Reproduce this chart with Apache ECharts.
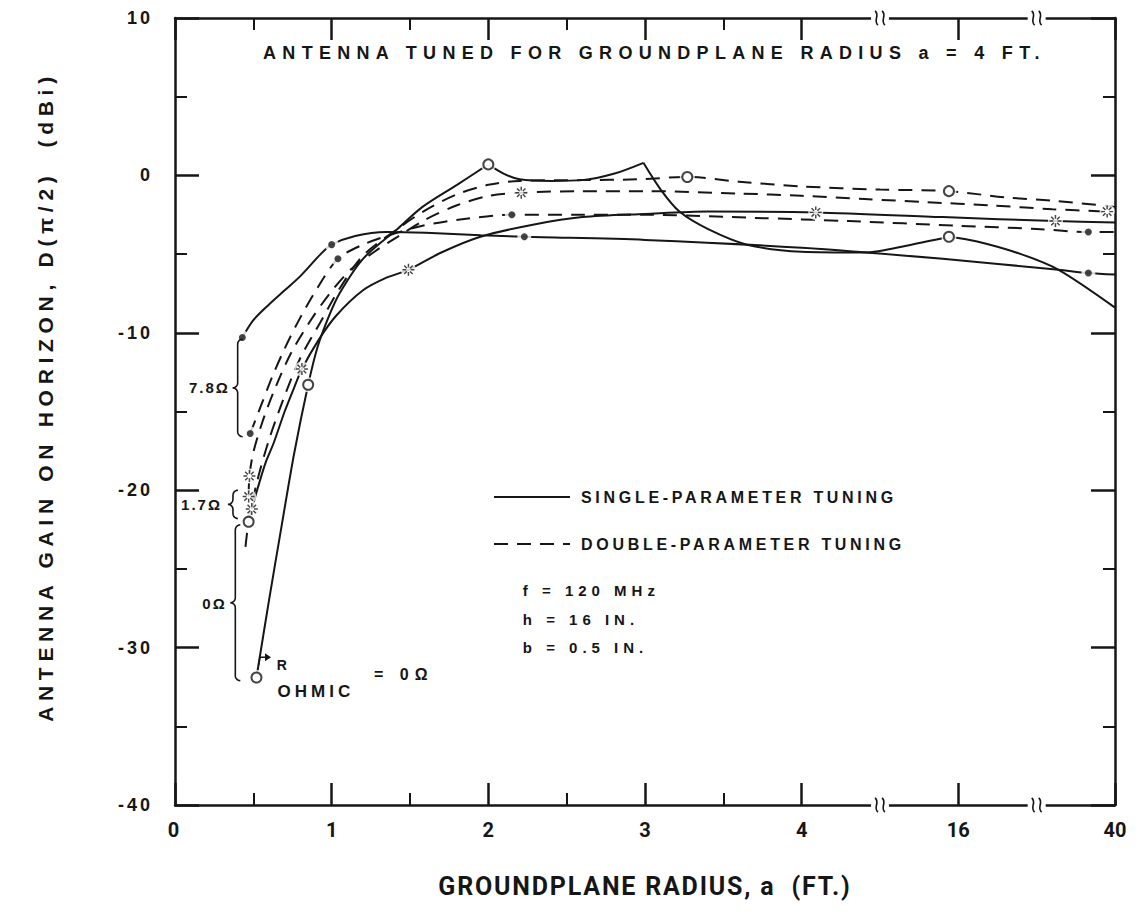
<!DOCTYPE html>
<html>
<head>
<meta charset="utf-8">
<script src="https://cdn.jsdelivr.net/npm/echarts@6/dist/echarts.min.js"></script>
<style>
html,body{margin:0;padding:0;background:#fff;}
#c{width:1138px;height:915px;}
</style>
</head>
<body>
<div id="c"></div>
<script>
// ---------------- DATA ----------------
// x is the position on the broken axis: 0,1,2,3,4 ft, then 16 ft (5) and 40 ft (6)
const xTickLabels = ['0', '1', '2', '3', '4', '16', '40'];
const yTickLabels = ['-40', '-30', '-20', '-10', '0', '10'];

// single-parameter tuning (solid), R_ohmic = 0 ohm
const single0a = [[0.52,-31.9],[0.6,-27.0],[0.68,-22.3],[0.76,-17.7],[0.85,-13.3],[0.91,-10.9],[0.98,-9.0],[1.05,-7.5],[1.2,-5.3],[1.42,-3.4],[1.58,-2.0],[1.8,-0.6],[2.0,0.7]];
const single0b = [[2.0,0.7],[2.1,0.1],[2.2,-0.25],[2.4,-0.35],[2.6,-0.3],[2.8,0.1],[2.99,0.8]];
const single0c = [[2.99,0.8],[3.1,-0.9],[3.22,-2.3],[3.4,-3.4],[3.65,-4.4],[4.0,-4.85],[4.4,-4.9],[4.7,-4.4],[4.94,-3.9]];
const single0d = [[4.94,-3.9],[5.12,-4.2],[5.4,-5.0],[5.64,-6.0],[6.0,-8.4]];
// single-parameter tuning, 1.7 ohm
const single17 = [[0.49,-21.2],[0.53,-19.8],[0.58,-18.2],[0.63,-17.0],[0.7,-15.0],[0.76,-13.5],[0.81,-12.3],[0.92,-10.4],[1.03,-8.9],[1.2,-7.3],[1.35,-6.5],[1.49,-6.0],[1.7,-4.9],[1.95,-3.9],[2.3,-3.1],[2.6,-2.65],[3.0,-2.45],[3.4,-2.3],[4.09,-2.35],[4.9,-2.65],[5.62,-2.9],[6.0,-3.0]];
// single-parameter tuning, 7.8 ohm
const single78 = [[0.43,-10.3],[0.5,-9.2],[0.6,-8.2],[0.7,-7.3],[0.8,-6.4],[0.93,-5.0],[1.0,-4.4],[1.15,-3.85],[1.35,-3.6],[1.6,-3.65],[1.95,-3.8],[2.23,-3.9],[3.0,-4.1],[4.0,-4.6],[4.9,-5.3],[5.64,-6.0],[5.83,-6.2],[6.0,-6.3]];

// double-parameter tuning (dashed), 0 ohm
const double0 = [[0.45,-23.6],[0.47,-22.0],[0.52,-19.6],[0.6,-16.8],[0.7,-14.0],[0.8,-11.6],[0.93,-9.3],[1.05,-7.2],[1.2,-5.1],[1.42,-3.4],[1.6,-2.2],[1.8,-1.2],[2.0,-0.6],[2.2,-0.35],[2.6,-0.3],[2.95,-0.25],[3.27,-0.1],[3.6,-0.4],[4.0,-0.7],[4.5,-0.9],[4.94,-1.0],[5.3,-1.4],[5.6,-1.6],[6.0,-2.0]];
// double-parameter tuning, 1.7 ohm
const double17 = [[0.47,-20.4],[0.475,-19.1],[0.5,-17.6],[0.56,-15.6],[0.64,-13.5],[0.74,-11.3],[0.86,-9.3],[0.98,-7.6],[1.12,-6.0],[1.28,-4.8],[1.42,-3.9],[1.6,-2.8],[1.8,-1.9],[2.0,-1.3],[2.21,-1.1],[2.6,-1.0],[3.0,-1.0],[3.6,-1.15],[4.0,-1.3],[4.4,-1.5],[4.8,-1.7],[5.2,-1.9],[5.6,-2.15],[5.95,-2.3]];
// double-parameter tuning, 7.8 ohm
const double78 = [[0.48,-16.4],[0.55,-14.6],[0.62,-12.8],[0.7,-11.0],[0.78,-9.4],[0.9,-7.3],[1.04,-5.3],[1.2,-4.4],[1.4,-3.7],[1.58,-3.2],[1.82,-2.8],[2.15,-2.5],[2.6,-2.5],[3.0,-2.5],[3.7,-2.7],[4.3,-2.9],[5.0,-3.2],[5.5,-3.4],[5.83,-3.6],[6.0,-3.6]];

// plotted markers: circles = 0 ohm, stars = 1.7 ohm, dots = 7.8 ohm
const circleMarks = [[0.52,-31.9],[0.85,-13.3],[2.0,0.7],[4.94,-3.9],[0.47,-22.0],[3.27,-0.1],[4.94,-1.0]];
const starMarks = [[0.49,-21.2],[0.81,-12.3],[1.49,-6.0],[4.09,-2.35],[5.62,-2.9],[0.47,-20.4],[0.475,-19.1],[2.21,-1.1],[5.95,-2.3]];
const dotMarks = [[0.43,-10.3],[1.0,-4.4],[2.23,-3.9],[5.83,-6.2],[0.48,-16.4],[1.04,-5.3],[2.15,-2.5],[5.83,-3.6]];

// ---------------- STYLE ----------------
const INK = '#161616';
const FONT = '"Liberation Sans", Arial, sans-serif';
const SINGLE = 'SINGLE-PARAMETER TUNING';
const DOUBLE = 'DOUBLE-PARAMETER TUNING';
const TITLE = 'ANTENNA TUNED FOR GROUNDPLANE RADIUS a = 4 FT.';
const YNAME = 'ANTENNA GAIN ON HORIZON, D(\u03C0/2)  (dBi)';
const XNAME = 'GROUNDPLANE RADIUS, a  (FT.)';

function starPath() {
  let d = '';
  for (let k = 0; k < 8; k++) {
    const a = k * Math.PI / 4, c = Math.cos(a), s = Math.sin(a);
    const r1 = 3.6, r2 = 9.5, w = 1.15;
    const pts = [[r1*c - w*s, r1*s + w*c], [r2*c - w*s, r2*s + w*c], [r2*c + w*s, r2*s - w*c], [r1*c + w*s, r1*s - w*c]];
    d += 'M' + pts.map(p => (p[0] + 10).toFixed(2) + ' ' + (p[1] + 10).toFixed(2)).join('L') + 'Z';
  }
  return 'path://' + d;
}

function lineSeries(name, data, dashed) {
  return {
    type: 'line', name: name, data: data, symbol: 'none', smooth: 0.3,
    itemStyle: { color: INK },
    lineStyle: { color: INK, width: 2, type: dashed ? [14, 9] : 'solid' },
    z: 2, silent: true, animation: false
  };
}

const axisCommonX = {
  type: 'value', min: 0, max: 6, interval: 1,
  axisLine: { show: true, onZero: false, lineStyle: { color: INK, width: 2.5 } },
  axisTick: { show: true, inside: true, length: 22, lineStyle: { color: INK, width: 2.5 } },
  minorTick: { show: true, splitNumber: 2, length: 12, lineStyle: { color: INK, width: 2 } },
  splitLine: { show: false }, minorSplitLine: { show: false }
};
const axisCommonY = {
  type: 'value', min: -40, max: 10, interval: 10,
  axisLine: { show: true, onZero: false, lineStyle: { color: INK, width: 2.5 } },
  axisTick: { show: true, inside: true, length: 24, lineStyle: { color: INK, width: 2.5 } },
  minorTick: { show: true, splitNumber: 2, length: 12, lineStyle: { color: INK, width: 2 } },
  splitLine: { show: false }, minorSplitLine: { show: false }
};

const chart = echarts.init(document.getElementById('c'), null, { renderer: 'svg', width: 1138, height: 915 });

const option = {
  animation: false,
  backgroundColor: '#ffffff',
  grid: { left: 175, right: 23, top: 18, bottom: 110, containLabel: false },
  xAxis: [
    Object.assign({}, axisCommonX, {
      position: 'bottom',
      axisLabel: { formatter: v => xTickLabels[Math.round(v)], color: INK, fontFamily: 'Roboto', fontWeight: 'bold', fontSize: 20, margin: 15 },
      name: XNAME, nameLocation: 'middle', nameGap: 69,
      nameTextStyle: { color: INK, fontFamily: 'Roboto', fontWeight: 'bold', fontSize: 25 }
    }),
    Object.assign({}, axisCommonX, { position: 'top', axisLabel: { show: false } })
  ],
  yAxis: [
    Object.assign({}, axisCommonY, {
      position: 'left',
      axisLabel: { formatter: v => yTickLabels[Math.round((v + 40) / 10)], color: INK, fontFamily: FONT, fontWeight: 'bold', fontSize: 18, margin: 22 },
      name: YNAME, nameLocation: 'middle', nameGap: 119, nameRotate: 90,
      nameTextStyle: { color: INK, fontFamily: FONT, fontWeight: 'bold', fontSize: 21, padding: [0, 0, 0, 30] }
    }),
    Object.assign({}, axisCommonY, { position: 'right', axisLabel: { show: false } })
  ],
  legend: {
    data: [SINGLE, DOUBLE], orient: 'vertical', left: 488, top: 484,
    itemWidth: 76, itemHeight: 14, itemGap: 31, selectedMode: false,
    itemStyle: { opacity: 0 },
    textStyle: { color: INK, fontFamily: FONT, fontWeight: 'bold', fontSize: 16, padding: [0, 0, 0, 6] }
  },
  series: [
    lineSeries(SINGLE, single0a, false),
    lineSeries(SINGLE, single0b, false),
    lineSeries(SINGLE, single0c, false),
    lineSeries(SINGLE, single0d, false),
    lineSeries(SINGLE, single17, false),
    lineSeries(SINGLE, single78, false),
    lineSeries(DOUBLE, double0, true),
    lineSeries(DOUBLE, double17, true),
    lineSeries(DOUBLE, double78, true),
    { type: 'scatter', name: 'gap', data: circleMarks.concat(starMarks), symbol: 'circle', symbolSize: 15, itemStyle: { color: '#fff' }, z: 3, silent: true },
    { type: 'scatter', name: 'gap2', data: dotMarks, symbol: 'circle', symbolSize: 14, itemStyle: { color: '#fff' }, z: 3, silent: true },
    { type: 'scatter', name: 'circles', data: circleMarks, symbol: 'circle', symbolSize: 10, itemStyle: { color: '#fff', borderColor: INK, borderWidth: 2 }, z: 4, silent: true },
    { type: 'scatter', name: 'stars', data: starMarks, symbol: starPath(), symbolSize: 12, itemStyle: { color: INK }, z: 4, silent: true },
    { type: 'scatter', name: 'dots', data: dotMarks, symbol: 'circle', symbolSize: 7, itemStyle: { color: INK }, z: 4, silent: true }
  ]
};
chart.setOption(option);

// ---------------- ANNOTATIONS (placed through the chart's scales) ----------------
const px = (x, y) => chart.convertToPixel({ gridIndex: 0 }, [x, y]);

function textEl(str, p, size, align) {
  return {
    type: 'text', x: p[0], y: p[1], z: 10, silent: true,
    style: { text: str, fill: INK, fontFamily: FONT, fontWeight: 'bold', fontSize: size, align: align || 'left', verticalAlign: 'middle' }
  };
}

function braceEl(xData, yTopData, yBotData) {
  const top = px(xData, yTopData), bot = px(xData, yBotData);
  const x = top[0], yT = top[1], yB = bot[1], yM = (yT + yB) / 2, r = 5;
  const pts = [];
  const arc = (cx, cy, a0, a1) => { for (let i = 0; i <= 6; i++) { const a = a0 + (a1 - a0) * i / 6; pts.push([cx + r * Math.cos(a), cy + r * Math.sin(a)]); } };
  arc(x + r, yT + r, -Math.PI / 2, -Math.PI);
  arc(x - r, yM - r, 0, Math.PI / 2);
  arc(x - r, yM + r, -Math.PI / 2, 0);
  arc(x + r, yB - r, Math.PI, Math.PI / 2);
  return { type: 'polyline', z: 10, silent: true, shape: { points: pts }, style: { stroke: INK, lineWidth: 1.6, fill: null } };
}

function breakEls(xData, yData, inward) {
  const p = px(xData, yData);
  const els = [{ type: 'rect', z: 9, silent: true, shape: { x: p[0] - 9, y: inward > 0 ? p[1] - 3 : p[1] - 14, width: 18, height: 17 }, style: { fill: '#fff' } }];
  [-3.5, 3.5].forEach(dx => {
    els.push({ type: 'bezierCurve', z: 10, silent: true,
      shape: { x1: p[0] + dx - 1.5, y1: p[1] - 7, cpx1: p[0] + dx + 4, cpy1: p[1] - 3, cpx2: p[0] + dx - 4, cpy2: p[1] + 3, x2: p[0] + dx + 1.5, y2: p[1] + 7 },
      style: { stroke: INK, lineWidth: 1.6, fill: null } });
  });
  return els;
}

const graphics = [];
graphics.push(textEl(TITLE, px(3.06, 7.8), 18, 'center'));
graphics.push(textEl('f = 120 MHz', px(2.22, -26.4), 15, 'left'));
graphics.push(textEl('h = 16 IN.', px(2.22, -28.2), 15, 'left'));
graphics.push(textEl('b = 0.5 IN.', px(2.22, -30.0), 15, 'left'));
graphics.push(textEl('R', px(0.65, -31.1), 14, 'left'));
graphics.push(textEl('OHMIC', px(0.655, -32.8), 17, 'left'));
graphics.push(textEl('= 0\u03A9', px(1.27, -31.7), 16, 'left'));
// brackets and their labels
graphics.push(braceEl(0.4, -10.4, -16.6));
graphics.push(textEl('7.8\u03A9', px(0.35, -13.5), 15, 'right'));
graphics.push(braceEl(0.37, -20.0, -21.8));
graphics.push(textEl('1.7\u03A9', px(0.3, -20.9), 15, 'right'));
graphics.push(braceEl(0.385, -22.2, -32.1));
graphics.push(textEl('0\u03A9', px(0.33, -27.2), 15, 'right'));
// little hook arrow at the 0-ohm curve start
(function () {
  const a = px(0.535, -31.1), b = px(0.56, -30.8), c = px(0.6, -30.8);
  graphics.push({ type: 'polyline', z: 10, silent: true, shape: { points: [a, [a[0] + 1, b[1] - 3], [c[0] - 3, b[1] - 3]] }, style: { stroke: INK, lineWidth: 1.5, fill: null } });
  graphics.push({ type: 'polygon', z: 10, silent: true, shape: { points: [[c[0] + 2, b[1] - 3], [c[0] - 4, b[1] - 7], [c[0] - 4, b[1] + 1]] }, style: { fill: INK } });
})();
// axis breaks
[4.5, 5.5].forEach(xb => {
  breakEls(xb, 10, 1).forEach(e => graphics.push(e));
  breakEls(xb, -40, -1).forEach(e => graphics.push(e));
});
chart.setOption({ graphic: { elements: graphics } });

// ---------------- letter spacing (typewriter-like lettering of the original) ----------------
const spacing = {};
spacing[TITLE] = 6.3;
spacing[YNAME] = 5.7;
spacing[XNAME] = 1.8;
spacing[SINGLE] = 3.7;
spacing[DOUBLE] = 3.7;
['f = 120 MHz', 'h = 16 IN.', 'b = 0.5 IN.'].forEach(t => spacing[t] = 5);
['R', '7.8\u03A9', '1.7\u03A9', '0\u03A9'].forEach(t => spacing[t] = 2);
spacing['OHMIC'] = 4;
spacing['= 0\u03A9'] = 6;
yTickLabels.forEach(t => { if (!(t in spacing)) spacing[t] = 3; });
function applySpacing() {
  document.querySelectorAll('#c text').forEach(t => {
    const s = spacing[t.textContent];
    if (s != null) t.style.letterSpacing = s + 'px';
  });
}
chart.on('finished', applySpacing);
applySpacing();
setTimeout(applySpacing, 0);
setTimeout(applySpacing, 100);
</script>
</body>
</html>
